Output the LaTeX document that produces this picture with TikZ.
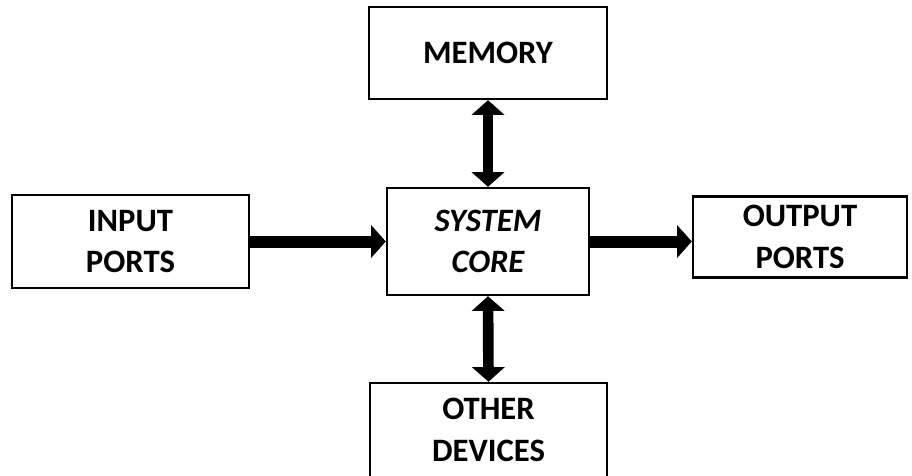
\documentclass[tikz,border=0pt]{standalone}
\usepackage{fontspec}
\setmainfont{Carlito}
\usetikzlibrary{arrows.meta}

\tikzset{
  unitbox/.style={draw, line width=1.8pt, align=center, font=\fontsize{24.5}{31}\selectfont\bfseries},
  bigarrow/.style={line width=9pt, -{Triangle[length=11pt,width=24pt]}},
  botharrow/.style={line width=8pt, {Triangle[length=11pt,width=24pt]}-{Triangle[length=11pt,width=24pt]}}
}

\begin{document}
\begin{tikzpicture}[x=0.75pt, y=-0.75pt]
  % Page frame
  \useasboundingbox (0,0) rectangle (912,475);

  % Central unit
  \node[unitbox, minimum width=151.5pt, minimum height=80.25pt, font=\fontsize{24.5}{31}\selectfont\bfseries\itshape] (core) at (488,241.5) {SYSTEM\\CORE};

  % Surrounding units
  \node[unitbox, minimum width=178.5pt, minimum height=69pt] (memory) at (488,53) {MEMORY};
  \node[unitbox, minimum width=177.75pt, minimum height=69.75pt] (input) at (130.5,241.5) {INPUT\\PORTS};
  \node[unitbox, minimum width=160.5pt, minimum height=60.75pt] (output) at (800,237) {OUTPUT\\PORTS};
  \node[unitbox, minimum width=177.75pt, minimum height=70.5pt] (other) at (488.5,430) {OTHER\\DEVICES};

  % Data paths
  \draw[bigarrow] (input.east) -- (core.west);
  \draw[bigarrow] (core.east) -- (core.east -| output.west);
  \draw[botharrow] (memory.south) -- (core.north);
  \draw[botharrow] (core.south) -- (other.north);
\end{tikzpicture}
\end{document}
